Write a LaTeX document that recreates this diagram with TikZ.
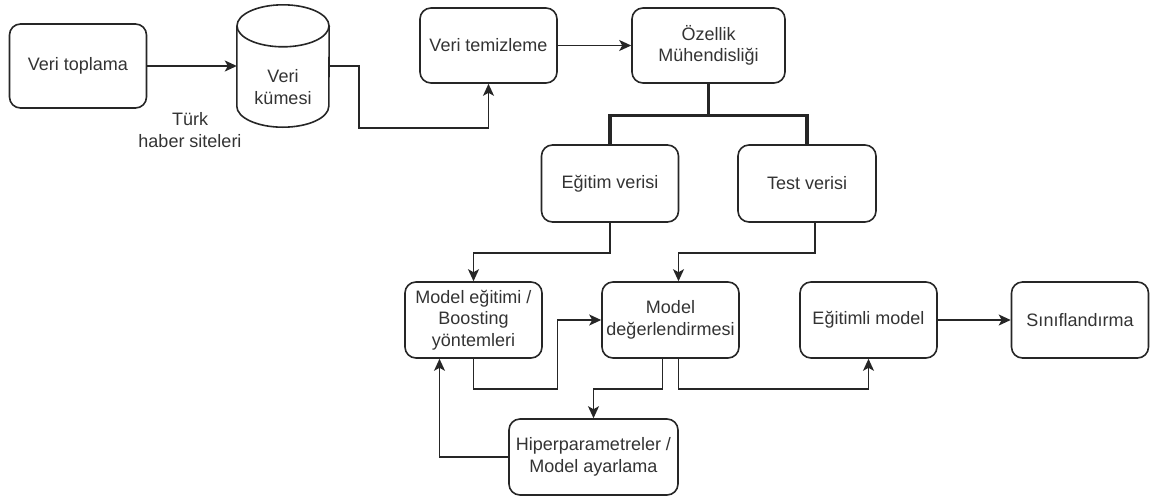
\documentclass[tikz,border=0pt]{standalone}
\usepackage{fontspec}
\setmainfont{Liberation Sans}
\usetikzlibrary{arrows.meta,calc}

\begin{document}
\begin{tikzpicture}[x=1pt,y=-1pt,
  every node/.style={font=\fontsize{18}{21.6}\selectfont, text=black!80},
  kutu/.style={draw=black!85, rounded corners=11pt, line width=1.6pt, minimum width=137pt, minimum height=76pt, align=center, inner sep=2pt},
  ok/.style={draw=black!85, line width=1.6pt, -{Stealth[length=12pt,width=11pt,inset=3pt]}},
  cizgi/.style={draw=black!85, line width=1.6pt},
  kalin/.style={draw=black!85, line width=3.5pt}]
  \useasboundingbox (0,0) rectangle (1161,499);

  % ust sira
  \node[kutu, minimum height=84pt] (toplama) at (78,66) {Veri toplama};
  \node[minimum width=92pt, minimum height=122pt, inner sep=0pt] (kume) at (283,66) {};
  \draw[cizgi] ([yshift=-21pt]kume.north west) -- ([yshift=21pt]kume.south west)
    arc[start angle=180, end angle=360, x radius=46pt, y radius=21pt] -- ([yshift=-21pt]kume.north east);
  \draw[cizgi] ([yshift=-21pt]kume.north) ellipse[x radius=46pt, y radius=21pt];
  \node[align=center] (kumeyazi) at (283,87) {Veri\\kümesi};
  \node[align=center] (kaynak) at (190,130) {Türk\\haber siteleri};
  \node[kutu, minimum height=75pt] (temiz) at (488.5,45.5) {Veri temizleme};
  \node[kutu, minimum height=75pt, minimum width=153pt] (ozel) at (708.5,45.5) {Özellik\\Mühendisliği};

  % veri bolme
  \node[kutu, minimum height=77pt] (egitimv) at (610,183.5) {Eğitim verisi};
  \node[kutu, minimum height=77pt, minimum width=138pt] (testv) at (807,183.5) {Test verisi};

  % model
  \node[kutu] (egitim) at (473.5,320) {Model eğitimi /\\Boosting\\yöntemleri};
  \node[kutu] (deger) at (670.5,320) {Model\\değerlendirmesi};
  \node[kutu] (egitimli) at (868.5,320) {Eğitimli model};
  \node[kutu] (sinif) at (1080,320) {Sınıflandırma};
  \node[kutu, minimum width=169pt] (hiper) at (593.5,457) {Hiperparametreler /\\Model ayarlama};

  \draw[ok] (toplama) -- (kume);
  \draw[ok] (kume.east) -- ++(30,0) -- ++(0,62) -| (temiz.south);
  \draw[ok] (temiz) -- (ozel);
  \draw[kalin] (ozel.south) -- ++(0,31.5);
  \draw[kalin] (egitimv.north) |- ($(ozel.south)+(0,31.5)$) -| (testv.north);
  \draw[ok] (egitimv.south) -- ++(0,30) -| (egitim.north);
  \draw[ok] ([xshift=8pt]testv.south) -- ++(0,30) -| ([xshift=8pt]deger.north);
  \draw[ok] (egitim.south) -- ++(0,30) -- ++(84,0) |- (deger.west);
  \draw[ok] ([xshift=-8pt]deger.south) -- ++(0,30) -| (hiper.north);
  \draw[ok] ([xshift=8pt]deger.south) -- ++(0,30) -| (egitimli.south);
  \draw[ok] (hiper.west) -| ([xshift=-34pt]egitim.south);
  \draw[ok] (egitimli) -- (sinif);
\end{tikzpicture}
\end{document}
